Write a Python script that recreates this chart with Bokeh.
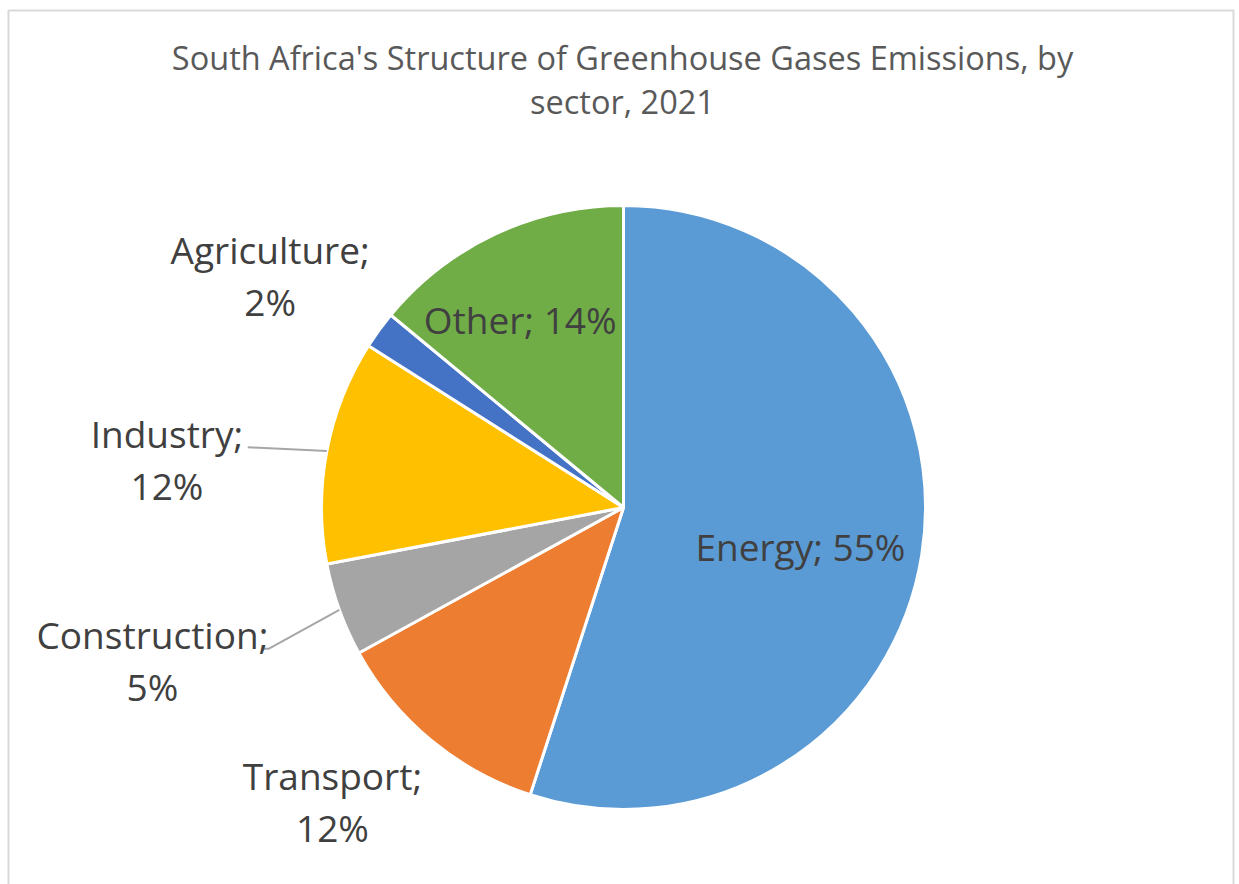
import math
from bokeh.plotting import figure
from bokeh.models import Range1d, ColumnDataSource
from bokeh.core.properties import value
from bokeh.embed import file_html
from bokeh.resources import INLINE

# ---- data ----
title_lines = ["South Africa's Structure of Greenhouse Gases Emissions, by", "sector, 2021"]
sectors = ["Energy", "Transport", "Construction", "Industry", "Agriculture", "Other"]
shares = [55, 12, 5, 12, 2, 14]
colors = ["#5B9BD5", "#ED7D31", "#A5A5A5", "#FFC000", "#4472C4", "#70AD47"]

# ---- layout (styles / positions, not data) ----
W, H = 1239, 884
CX, CY, R = 623, H - 507, 302
# label placement: (radius factor, angle offset deg, inside?)
label_layout = {
    "Energy": (0.60, -3.5, True),
    "Transport": (1.37, -5.1, False),
    "Construction": (1.64, -1.8, False),
    "Industry": (1.52, 4.8, False),
    "Agriculture": (1.40, 2.7, False),
    "Other": (0.71, 3.6, True),
}
leaders = {"Industry": (1.26, 1.7), "Construction": (1.265, 1.9)}

p = figure(width=W, height=H, x_range=Range1d(0, W), y_range=Range1d(0, H),
           output_backend="svg", toolbar_location=None, min_border=0,
           background_fill_color="white", border_fill_color="white")
p.axis.visible = False
p.grid.visible = False
p.outline_line_color = None

# frame
p.quad(left=[8], right=[1233], bottom=[-20], top=[H - 10], fill_color=None,
       line_color="#D9D9D9", line_width=2)

total = float(sum(shares))
starts, ends, mids = [], [], []
cum = 0.0
for s in shares:
    a0 = math.pi / 2 - 2 * math.pi * (cum + s) / total
    a1 = math.pi / 2 - 2 * math.pi * cum / total
    starts.append(a0)
    ends.append(a1)
    mids.append((a0 + a1) / 2)
    cum += s

src = ColumnDataSource(dict(x=[CX] * len(shares), y=[CY] * len(shares),
                            start=starts, end=ends, color=colors))
p.wedge(x="x", y="y", radius=R, start_angle="start", end_angle="end",
        fill_color="color", line_color="white", line_width=3, source=src)

# leader lines
for name, (rf, off) in leaders.items():
    i = sectors.index(name)
    m = mids[i]
    x0, y0 = CX + R * math.cos(m), CY + R * math.sin(m)
    m2 = m + math.radians(off)
    x1, y1 = CX + rf * R * math.cos(m2), CY + rf * R * math.sin(m2)
    xs, ys = [x0, x1], [y0, y1]
    if name == "Construction":
        xs.append(x1 - 5)
        ys.append(y1)
    p.line(xs, ys, line_color="#A6A6A6", line_width=2)

FONT = value("Open Sans")
lab_x, lab_y, lab_t = [], [], []
for i, name in enumerate(sectors):
    rf, off, inside = label_layout[name]
    m = mids[i] + math.radians(off)
    lx, ly = CX + rf * R * math.cos(m), CY + rf * R * math.sin(m)
    if inside:
        lab_x.append(lx); lab_y.append(ly); lab_t.append(f"{name}; {shares[i]}%")
    else:
        lab_x += [lx, lx]; lab_y += [ly + 26, ly - 26]
        lab_t += [f"{name};", f"{shares[i]}%"]
p.text(x=lab_x, y=lab_y, text=lab_t, text_font=FONT, text_font_size="37px",
       text_color="#404040", text_align="center", text_baseline="middle")

p.text(x=[622, 622], y=[H - 57, H - 101], text=title_lines, text_font=FONT,
       text_font_size="32.5px", text_color="#595959", text_align="center",
       text_baseline="middle")

open("out.html", "w").write(file_html(p, INLINE))
